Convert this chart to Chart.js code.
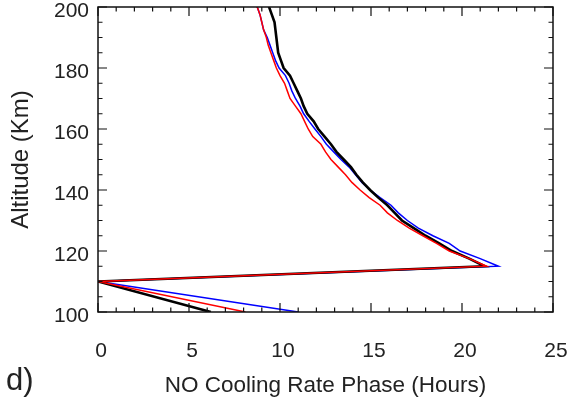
<!DOCTYPE html>
<html>
<head>
<meta charset="utf-8">
<script src="https://cdn.jsdelivr.net/npm/chart.js@4.4.0/dist/chart.umd.min.js"></script>
<style>
html, body { margin: 0; padding: 0; background: #fff; }
#box { position: relative; width: 572px; height: 403px; }
#panel { position: absolute; left: 6px; top: 362px; font: 31px "Liberation Sans", Arial, sans-serif; color: #222; }
</style>
</head>
<body>
<div id="box">
  <canvas id="myChart" width="572" height="403"></canvas>
  <div id="panel">d)</div>
</div>
<script>
// altitudes (km) shared by the three profiles
var altitudes = [100, 110, 115, 117.5, 120, 122.5, 125, 127.5, 130, 132.5, 135, 137.5, 140,
    142.5, 145, 147.5, 150, 152.5, 155, 157.5, 160, 162.5, 165, 167.5, 170, 172.5, 175,
    177.5, 180, 182.5, 185, 187.5, 190, 192.5, 195, 197.5, 200, 205]

// phase in hours
var fasePreta = [6.2, 0, 21.25, 20.4, 19.45, 18.75, 18.0, 17.35, 16.7, 16.3, 15.9, 15.4, 14.95,
    14.55, 14.2, 13.9, 13.5, 13.1, 12.8, 12.45, 12.1, 11.85, 11.5, 11.3, 11.15, 10.95, 10.75,
    10.55, 10.2, 10.05, 9.9, 9.85, 9.8, 9.75, 9.7, 9.55, 9.4, 9.1]
var faseAzul = [11.0, 0, 22.0, 21.0, 19.9, 19.3, 18.4, 17.6, 17.0, 16.5, 16.1, 15.5, 14.95,
    14.5, 14.15, 13.8, 13.35, 12.95, 12.55, 12.25, 11.92, 11.6, 11.3, 11.1, 10.85, 10.65, 10.5,
    10.3, 9.95, 9.75, 9.6, 9.45, 9.3, 9.1, 9.0, 8.9, 8.75, 8.5]
var faseVermelha = [8.1, 0, 21.35, 20.4, 19.3, 18.6, 17.85, 17.1, 16.45, 15.9, 15.5, 14.9, 14.4,
    13.95, 13.6, 13.2, 12.8, 12.5, 12.25, 11.8, 11.55, 11.35, 11.15, 10.85, 10.55, 10.4, 10.25,
    10.0, 9.8, 9.65, 9.5, 9.35, 9.25, 9.1, 9.0, 8.9, 8.75, 8.5]

var xMajor = [0, 5, 10, 15, 20, 25]
var yMajor = [100, 120, 140, 160, 180, 200]

function pontos(fase){
    var lista = []
    for(var i = 0; i < altitudes.length; i++){
        lista.push({x: fase[i], y: altitudes[i]})
    }
    return lista
}

var familia = '"Liberation Sans", Arial, sans-serif'
var fonte = {family: familia, size: 21}

// IDL style ticks pointing inward on all four sides, plus the frame
const ticksPraDentro = {
    id: 'ticksPraDentro',
    afterDraw(chart){
        const ctx = chart.ctx
        const a = chart.chartArea
        const x = chart.scales.x
        const y = chart.scales.y
        ctx.save()
        ctx.strokeStyle = '#111'
        ctx.lineWidth = 1.2
        ctx.beginPath()
        for(var v = xMajor[0]; v <= xMajor[xMajor.length-1]; v += 1){
            var px = x.getPixelForValue(v)
            var len = xMajor.indexOf(v) >= 0 ? 9 : 4.5
            ctx.moveTo(px, a.bottom); ctx.lineTo(px, a.bottom - len)
            ctx.moveTo(px, a.top); ctx.lineTo(px, a.top + len)
        }
        for(var w = yMajor[0]; w <= yMajor[yMajor.length-1]; w += 5){
            var py = y.getPixelForValue(w)
            var len2 = yMajor.indexOf(w) >= 0 ? 9 : 4.5
            ctx.moveTo(a.left, py); ctx.lineTo(a.left + len2, py)
            ctx.moveTo(a.right, py); ctx.lineTo(a.right - len2, py)
        }
        ctx.stroke()
        ctx.lineWidth = 1.5
        ctx.strokeRect(a.left, a.top, a.right - a.left, a.bottom - a.top)
        ctx.restore()
    }
}

function semMargem(s){
    s.paddingTop = 0
    s.paddingBottom = 0
    s.paddingLeft = 0
    s.paddingRight = 0
}

const ctx = document.getElementById('myChart');
new Chart(ctx, {
    type: 'scatter',
    data: {
        datasets: [{
            data: pontos(faseVermelha),
            borderColor: "#ff0000",
            borderWidth: 1.5,
            showLine: true,
            pointRadius: 0
        }, {
            data: pontos(fasePreta),
            borderColor: "black",
            borderWidth: 2.6,
            showLine: true,
            pointRadius: 0
        }, {
            data: pontos(faseAzul),
            borderColor: "#0000ff",
            borderWidth: 1.5,
            showLine: true,
            pointRadius: 0
        }]
    },
    options: {
        responsive: false,
        animation: false,
        layout: { padding: {left: 0, top: 7, right: 19, bottom: 0} },
        plugins: { legend: {display: false}, tooltip: {enabled: false} },
        scales: {
            x: {
                type: 'linear',
                min: 0, max: 25,
                grid: {display: false, drawTicks: false},
                border: {display: false},
                ticks: {stepSize: 5, padding: 27, labelOffset: 3, color: '#222', font: fonte, maxRotation: 0},
                title: {display: true, text: 'NO Cooling Rate Phase (Hours)', color: '#222', font: {family: familia, size: 22.5}, padding: {top: 0, bottom: 4}},
                afterFit: function(s){ s.height = 91; semMargem(s) }
            },
            y: {
                type: 'linear',
                min: 100, max: 200,
                grid: {display: false, drawTicks: false},
                border: {display: false},
                ticks: {stepSize: 20, padding: 9, labelOffset: 4, color: '#222', font: fonte},
                title: {display: true, text: 'Altitude (Km)', color: '#222', font: {family: familia, size: 24}, padding: {top: 7, bottom: 0}},
                afterFit: function(s){ s.width = 98; semMargem(s) }
            }
        }
    },
    plugins: [ticksPraDentro]
})
</script>
</body>
</html>
